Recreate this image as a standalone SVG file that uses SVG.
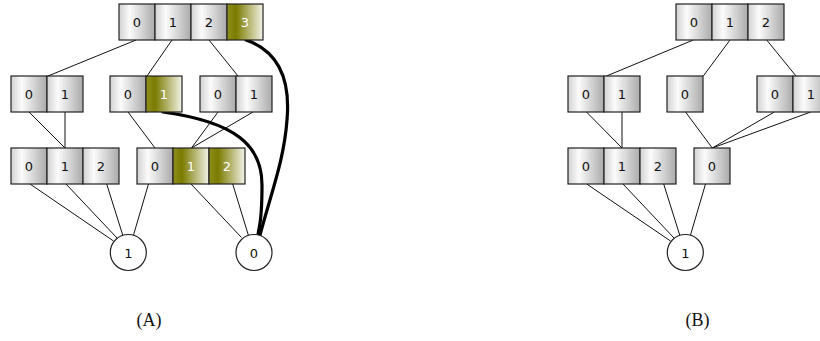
<svg xmlns="http://www.w3.org/2000/svg" width="820" height="341" viewBox="0 0 820 341">
<style>
.c{fill:url(#g);stroke:#222;stroke-width:1.2}
.h{fill:url(#o);stroke:#222;stroke-width:1.2}
.t{font-family:"DejaVu Sans",sans-serif;font-size:13px;text-anchor:middle;fill:#111}
.w{fill:#fff}
.e{stroke:#111;stroke-width:1;fill:none}
.b{stroke:#000;stroke-width:3.2;fill:none;stroke-linecap:round}
.n{fill:#fff;stroke:#222;stroke-width:1.2}
.l{font-family:"Liberation Serif",serif;font-size:18px;text-anchor:middle;fill:#111}
</style>
<defs>
<linearGradient id="g" x1="0" y1="0" x2="1" y2="0">
<stop offset="0" stop-color="#d2d2d2"/>
<stop offset="0.3" stop-color="#fbfbfb"/>
<stop offset="1" stop-color="#ababab"/>
</linearGradient>
<linearGradient id="o" x1="0" y1="0" x2="1" y2="0">
<stop offset="0" stop-color="#8e8e1e"/>
<stop offset="0.25" stop-color="#7b7b00"/>
<stop offset="1" stop-color="#f3f3e8"/>
</linearGradient>
</defs>
<g id="connectors">
<line class="e" x1="136" y1="40" x2="48" y2="76"/>
<line class="e" x1="172" y1="40" x2="147" y2="76"/>
<line class="e" x1="209" y1="40" x2="238" y2="76"/>
<line class="e" x1="29" y1="112" x2="65" y2="148"/>
<line class="e" x1="65" y1="112" x2="65" y2="148"/>
<line class="e" x1="128" y1="112" x2="155" y2="148"/>
<line class="e" x1="218" y1="112" x2="191.5" y2="148"/>
<line class="e" x1="253" y1="112" x2="191.5" y2="148"/>
<line class="e" x1="30" y1="184" x2="113.5" y2="241"/>
<line class="e" x1="66" y1="184" x2="117" y2="238"/>
<line class="e" x1="106.7" y1="184" x2="122.7" y2="235"/>
<line class="e" x1="148.5" y1="184" x2="133.5" y2="235"/>
<line class="e" x1="191" y1="184" x2="241.5" y2="237.5"/>
<line class="e" x1="232.7" y1="184" x2="248.3" y2="235"/>
<path class="b" d="M246,40 C275,50 291,75 287,120 C284,160 272,190 260,235"/>
<path class="b" d="M163,112 C235,122 262,145 262,185 S259,225 258,235"/>
<line class="e" x1="693.3" y1="40" x2="606.5" y2="76"/>
<line class="e" x1="730" y1="40" x2="703.3" y2="76"/>
<line class="e" x1="766.7" y1="40" x2="796" y2="76"/>
<line class="e" x1="586.5" y1="112" x2="622" y2="148"/>
<line class="e" x1="622" y1="112" x2="622" y2="148"/>
<line class="e" x1="685.5" y1="112" x2="712.3" y2="148"/>
<line class="e" x1="774.3" y1="112" x2="712.3" y2="148"/>
<line class="e" x1="810.7" y1="112" x2="712.3" y2="148"/>
<line class="e" x1="586.7" y1="184" x2="670.5" y2="241"/>
<line class="e" x1="623" y1="184" x2="674" y2="238"/>
<line class="e" x1="663.7" y1="184" x2="679.7" y2="235"/>
<line class="e" x1="705.5" y1="184" x2="690.5" y2="235"/>
</g>
<g id="a_top">
<rect class="c" x="119" y="4" width="36" height="36"/><rect class="c" x="155" y="4" width="36" height="36"/><rect class="c" x="191" y="4" width="36" height="36"/><rect class="h" x="227" y="4" width="36" height="36"/>
<text class="t" x="137" y="27">0</text><text class="t" x="173" y="27">1</text><text class="t" x="209" y="27">2</text><text class="t w" x="245" y="27">3</text>
</g>
<g id="a_n1">
<rect class="c" x="11" y="76" width="36" height="36"/><rect class="c" x="47" y="76" width="36" height="36"/>
<text class="t" x="29" y="99">0</text><text class="t" x="65" y="99">1</text>
</g>
<g id="a_n2">
<rect class="c" x="110" y="76" width="36" height="36"/><rect class="h" x="146" y="76" width="36" height="36"/>
<text class="t" x="128" y="99">0</text><text class="t w" x="164" y="99">1</text>
</g>
<g id="a_n3">
<rect class="c" x="200" y="76" width="36" height="36"/><rect class="c" x="236" y="76" width="36" height="36"/>
<text class="t" x="218" y="99">0</text><text class="t" x="254" y="99">1</text>
</g>
<g id="a_n4">
<rect class="c" x="11" y="148" width="36" height="36"/><rect class="c" x="47" y="148" width="36" height="36"/><rect class="c" x="83" y="148" width="36" height="36"/>
<text class="t" x="29" y="171">0</text><text class="t" x="65" y="171">1</text><text class="t" x="101" y="171">2</text>
</g>
<g id="a_n5">
<rect class="c" x="137" y="148" width="36" height="36"/><rect class="h" x="173" y="148" width="36" height="36"/><rect class="h" x="209" y="148" width="36" height="36"/>
<text class="t" x="155" y="171">0</text><text class="t w" x="191" y="171">1</text><text class="t w" x="227" y="171">2</text>
</g>
<g id="a_c1"><circle class="n" cx="128.3" cy="252.5" r="18"/><text class="t" x="128.3" y="257.5">1</text></g>
<g id="a_c0"><circle class="n" cx="254" cy="252.5" r="18"/><text class="t" x="254" y="257.5">0</text></g>
<g id="b_top">
<rect class="c" x="676" y="4" width="36" height="36"/><rect class="c" x="712" y="4" width="36" height="36"/><rect class="c" x="748" y="4" width="36" height="36"/>
<text class="t" x="694" y="27">0</text><text class="t" x="730" y="27">1</text><text class="t" x="766" y="27">2</text>
</g>
<g id="b_n1">
<rect class="c" x="568" y="76" width="36" height="36"/><rect class="c" x="604" y="76" width="36" height="36"/>
<text class="t" x="586" y="99">0</text><text class="t" x="622" y="99">1</text>
</g>
<g id="b_n2">
<rect class="c" x="667" y="76" width="36" height="36"/>
<text class="t" x="685" y="99">0</text>
</g>
<g id="b_n3">
<rect class="c" x="757" y="76" width="36" height="36"/><rect class="c" x="793" y="76" width="36" height="36"/>
<text class="t" x="775" y="99">0</text><text class="t" x="811" y="99">1</text>
</g>
<g id="b_n4">
<rect class="c" x="568" y="148" width="36" height="36"/><rect class="c" x="604" y="148" width="36" height="36"/><rect class="c" x="640" y="148" width="36" height="36"/>
<text class="t" x="586" y="171">0</text><text class="t" x="622" y="171">1</text><text class="t" x="658" y="171">2</text>
</g>
<g id="b_n5">
<rect class="c" x="694" y="148" width="36" height="36"/>
<text class="t" x="712" y="171">0</text>
</g>
<g id="b_c1"><circle class="n" cx="685.3" cy="252.5" r="18"/><text class="t" x="685.3" y="257.5">1</text></g>
<text class="l" x="149" y="326">(A)</text>
<text class="l" x="697.5" y="326">(B)</text>
</svg>
